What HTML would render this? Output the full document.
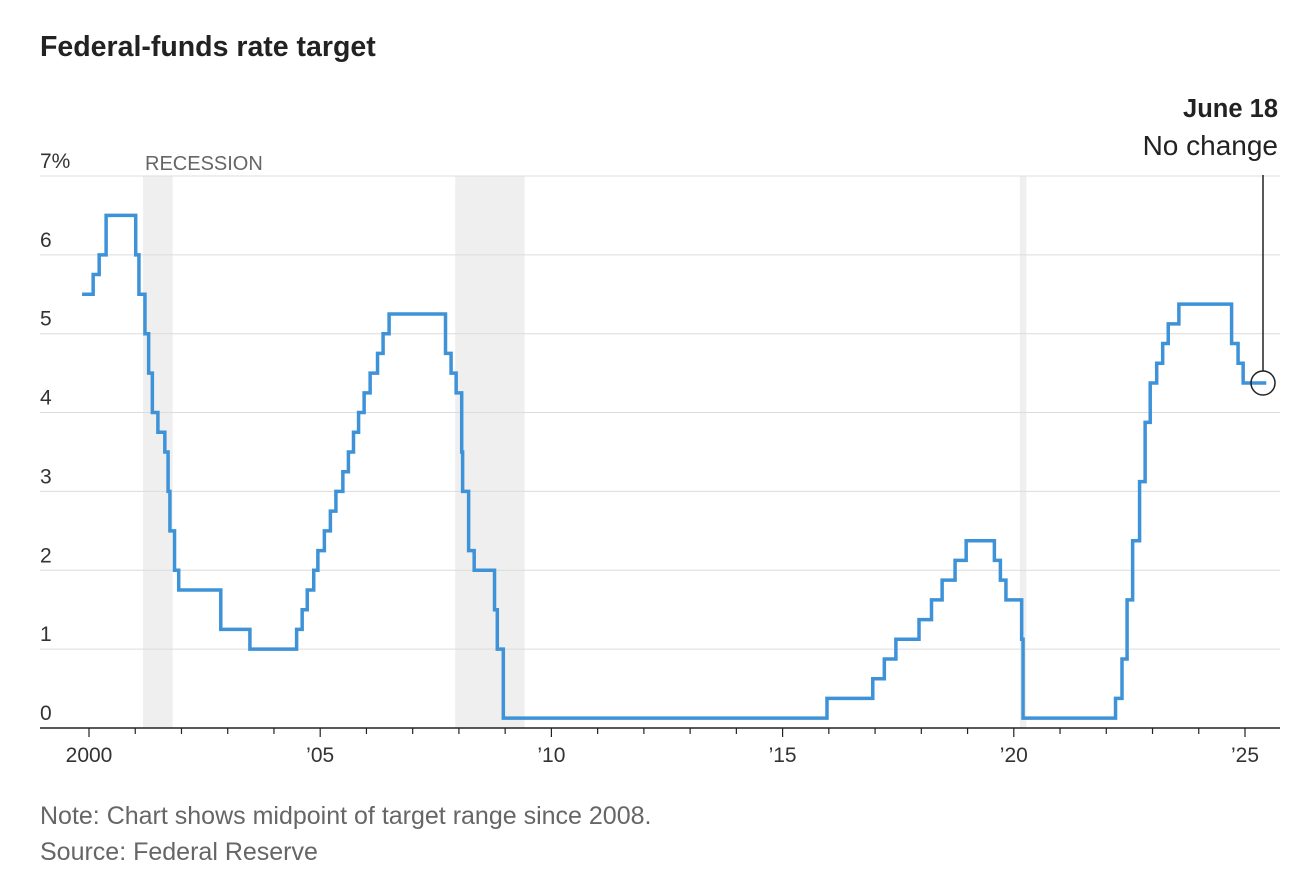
<!DOCTYPE html>
<html><head><meta charset="utf-8">
<style>
body{margin:0;background:#fff;width:1302px;height:882px;overflow:hidden;font-family:"Liberation Sans",sans-serif;}
</style></head>
<body>
<svg width="1302" height="882" xmlns="http://www.w3.org/2000/svg">
<text x="40" y="56" font-size="28.5" font-weight="bold" fill="#222">Federal-funds rate target</text>
<g id="rec"></g>
<g id="grid"></g>
<text x="145" y="170" font-size="20" fill="#666">RECESSION</text>
<g id="series"></g>
<text x="1278" y="117" font-size="25.5" font-weight="bold" text-anchor="end" fill="#222">June 18</text>
<text x="1278" y="155" font-size="28" text-anchor="end" fill="#222">No change</text>
<text x="40" y="824" font-size="25" fill="#666">Note: Chart shows midpoint of target range since 2008.</text>
<text x="40" y="860" font-size="25" fill="#666">Source: Federal Reserve</text>
</svg>
<script>
const dates=[1999.85,2000.09,2000.22,2000.37,2001.01,2001.08,2001.21,2001.29,2001.37,2001.49,2001.64,2001.71,2001.75,2001.85,2001.94,2002.85,2003.48,2004.49,2004.61,2004.72,2004.86,2004.95,2005.09,2005.22,2005.34,2005.49,2005.61,2005.72,2005.83,2005.95,2006.08,2006.24,2006.36,2006.49,2007.71,2007.83,2007.94,2008.06,2008.08,2008.21,2008.33,2008.77,2008.83,2008.96,2015.96,2016.95,2017.2,2017.45,2017.95,2018.22,2018.45,2018.73,2018.97,2019.58,2019.71,2019.83,2020.17,2020.2,2022.2,2022.34,2022.45,2022.57,2022.72,2022.84,2022.95,2023.09,2023.22,2023.34,2023.57,2024.71,2024.85,2024.96];
const rates=[5.5,5.75,6.0,6.5,6.0,5.5,5.0,4.5,4.0,3.75,3.5,3.0,2.5,2.0,1.75,1.25,1.0,1.25,1.5,1.75,2.0,2.25,2.5,2.75,3.0,3.25,3.5,3.75,4.0,4.25,4.5,4.75,5.0,5.25,4.75,4.5,4.25,3.5,3.0,2.25,2.0,1.5,1.0,0.125,0.375,0.625,0.875,1.125,1.375,1.625,1.875,2.125,2.375,2.125,1.875,1.625,1.125,0.125,0.375,0.875,1.625,2.375,3.125,3.875,4.375,4.625,4.875,5.125,5.375,4.875,4.625,4.375];
const endDate=2025.46;
const recStart=[2001.17,2007.92,2020.13];
const recEnd=[2001.81,2009.42,2020.27];
const yTicks=[0,1,2,3,4,5,6,7];
const yLabels=["0","1","2","3","4","5","6","7%"];
const xTicks=[2000,2005,2010,2015,2020,2025];
const xLabels=["2000","\u201905","\u201910","\u201915","\u201920","\u201925"];
const NS="http://www.w3.org/2000/svg";
const X=d=>89+(d-2000)*46.24;
const Y=v=>728-v*78.86;
function mk(t,a,p){const e=document.createElementNS(NS,t);for(const k in a)e.setAttribute(k,a[k]);p.appendChild(e);return e;}
const rec=document.getElementById('rec'),grid=document.getElementById('grid'),ser=document.getElementById('series');
recStart.forEach((s,i)=>{const r=mk('rect',{x:X(s),y:176,width:X(recEnd[i])-X(s),height:552,fill:'#efefef'},rec);

});
yTicks.forEach((v,i)=>{if(v>0){const l=mk('line',{x1:40,x2:1280,y1:Y(v),y2:Y(v),stroke:'#dcdcdc','stroke-width':1},grid);

}
const t=mk('text',{x:40,y:Y(v)-8,'font-size':21,fill:'#333'},grid);t.textContent=yLabels[i];

});
const ax=mk('line',{x1:40,x2:1280,y1:728,y2:728,stroke:'#222','stroke-width':1.5},grid);


xTicks.forEach((d,i)=>{for(let k=0;k<5&&d+k<=2025;k++){const tk=mk('line',{x1:X(d+k),x2:X(d+k),y1:728,y2:k?734:737,stroke:'#222','stroke-width':1.2},grid);

}
const t=mk('text',{x:X(d),y:762,'font-size':21,fill:'#333','text-anchor':'middle'},grid);t.textContent=xLabels[i];

});
let p='M'+X(dates[0])+' '+Y(rates[0]);
for(let i=1;i<dates.length;i++){p+=' H'+X(dates[i])+' V'+Y(rates[i]);}
p+=' H'+X(endDate);
const path=mk('path',{d:p,fill:'none',stroke:'#3e92d8','stroke-width':3.5},ser);


const last=rates[rates.length-1];
const ln=mk('line',{x1:1263,x2:1263,y1:175,y2:Y(last)-12,stroke:'#222','stroke-width':1.5},ser);


const c=mk('circle',{cx:1263,cy:Y(last),r:12,fill:'none',stroke:'#222','stroke-width':1.5},ser);


</script>
</body></html>
